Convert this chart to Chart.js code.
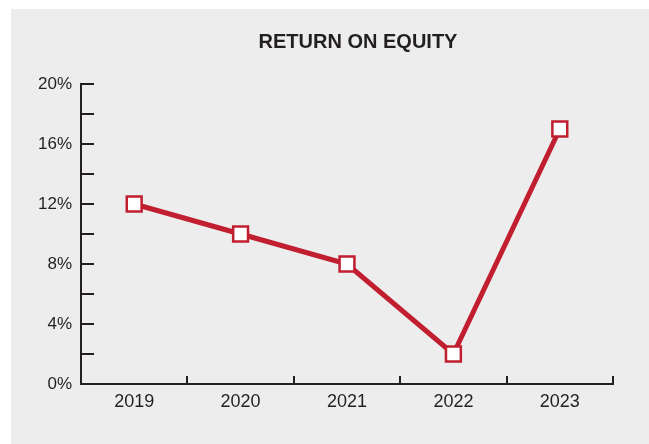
<!DOCTYPE html>
<html>
<head>
<meta charset="utf-8">
<title>Return on Equity</title>
<script src="https://cdn.jsdelivr.net/npm/chart.js@4/dist/chart.umd.min.js"></script>
<style>
    html, body { margin: 0; padding: 0; background: #ffffff; }
    #chartWrap { width: 649px; height: 444px; position: relative; }
</style>
</head>
<body>
<div id="chartWrap"><canvas id="roeChart"></canvas></div>
<script>
// Return on equity, yearly
const years = ['2019', '2020', '2021', '2022', '2023'];
const roeValues = [12, 10, 8, 2, 17];
const yTicks = [0, 4, 8, 12, 16, 20];
const chartTitle = 'RETURN ON EQUITY';

const RED = '#c11e2f';
const INK = '#231f20';
const PANEL = '#ededed';
const TICK_FONT = "'Liberation Sans Narrow', 'Liberation Sans', Arial, sans-serif";

// Grey panel, title and the inward tick marks
const decorPlugin = {
    id: 'decor',
    beforeDraw(chart) {
        const ctx = chart.ctx;
        ctx.save();
        ctx.fillStyle = PANEL;
        ctx.fillRect(11, 9, chart.width - 11, chart.height - 9);
        ctx.restore();
    },
    afterDatasetsDraw(chart) {
        const ctx = chart.ctx;
        const x = chart.scales.x;
        const y = chart.scales.y;
        ctx.save();
        ctx.strokeStyle = INK;
        ctx.lineWidth = 2;
        ctx.beginPath();
        // y ticks every 2%, pointing into the plot
        for (let v = y.min; v <= y.max; v += 2) {
            const py = Math.round(y.getPixelForValue(v));
            ctx.moveTo(x.left, py);
            ctx.lineTo(x.left + 13, py);
        }
        // x ticks on category boundaries
        for (let i = 0; i < years.length; i++) {
            const px = i < years.length - 1
                ? (x.getPixelForValue(i) + x.getPixelForValue(i + 1)) / 2
                : x.right;
            ctx.moveTo(Math.round(px), y.bottom);
            ctx.lineTo(Math.round(px), y.bottom - 8);
        }
        ctx.stroke();

        ctx.fillStyle = INK;
        ctx.font = "bold 20px 'Liberation Sans', Arial, sans-serif";
        ctx.textAlign = 'center';
        ctx.textBaseline = 'middle';
        ctx.fillText(chartTitle, 358, 42);
        ctx.restore();
    }
};

new Chart(document.getElementById('roeChart'), {
    type: 'line',
    data: {
        labels: years,
        datasets: [{
            data: roeValues,
            borderColor: RED,
            borderWidth: 5,
            tension: 0,
            pointStyle: 'rect',
            pointRadius: 10.5,
            pointHoverRadius: 10.5,
            pointBorderWidth: 2.5,
            pointBorderColor: RED,
            pointBackgroundColor: '#ffffff'
        }]
    },
    options: {
        responsive: true,
        maintainAspectRatio: false,
        animation: false,
        events: [],
        layout: { padding: { top: 84, right: 36, left: 0, bottom: 0 } },
        plugins: {
            legend: { display: false },
            title: { display: false },
            tooltip: { enabled: false }
        },
        scales: {
            x: {
                type: 'category',
                offset: true,
                grid: { display: false, drawTicks: false },
                border: { display: true, color: INK, width: 2 },
                ticks: {
                    color: INK,
                    padding: 7,
                    maxRotation: 0,
                    font: { family: TICK_FONT, size: 18 }
                },
                afterFit(scale) { scale.height = 60; }
            },
            y: {
                min: 0,
                max: 20,
                grid: { display: false, drawTicks: false },
                border: { display: true, color: INK, width: 2 },
                ticks: {
                    stepSize: 2,
                    color: INK,
                    padding: 9,
                    font: { family: TICK_FONT, size: 17 },
                    callback: v => yTicks.includes(v) ? v + '%' : ''
                },
                afterFit(scale) { scale.width = 81; }
            }
        }
    },
    plugins: [decorPlugin]
});
</script>
</body>
</html>
